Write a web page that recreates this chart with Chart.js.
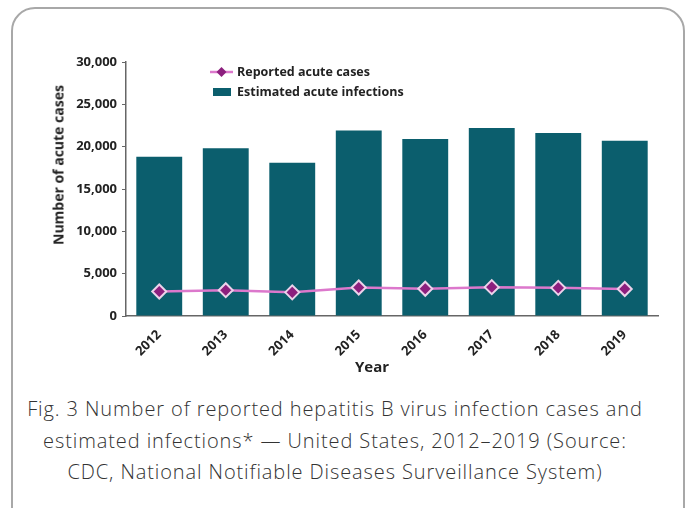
<!DOCTYPE html>
<html>
<head>
<meta charset="utf-8">
<script src="https://cdn.jsdelivr.net/npm/chart.js@4"></script>
<style>
  body { margin: 0; background: #fff; }
  #wrap { position: relative; width: 693px; height: 508px; overflow: hidden; }
  #frame {
    position: absolute; left: 11px; top: 7px; width: 674px; height: 540px;
    border: 2px solid #a8a8a8; border-radius: 24px; box-sizing: border-box;
  }
  #cv { position: absolute; left: 0; top: 0; }
  .lbl { position: absolute; font-family: "Open Sans", sans-serif; font-weight: 700; color: #222; white-space: nowrap; }
  #ytitle { font-size: 14px; left: 58px; top: 165px; transform: translate(-50%, -50%) rotate(-90deg); }
  #xtitle { font-size: 15px; left: 372px; top: 366px; transform: translate(-50%, -50%); }
  #caption {
    position: absolute; left: 0; width: 670px; top: 393px; text-align: center;
    font-family: "Open Sans", sans-serif; font-weight: 300; font-size: 20px; letter-spacing: 0.9px;
    line-height: 31.5px; color: #333;
  }
</style>
</head>
<body>
<div id="wrap">
  <div id="frame"></div>
  <canvas id="cv" width="693" height="390"></canvas>
  <div class="lbl" id="ytitle">Number of acute cases</div>
  <div class="lbl" id="xtitle">Year</div>
  <div id="caption">Fig. 3 Number of reported hepatitis B virus infection cases and<br>estimated infections* — United States, 2012–2019 (Source:<br>CDC, National Notifiable Diseases Surveillance System)</div>
</div>
<script>
const years = ['2012', '2013', '2014', '2015', '2016', '2017', '2018', '2019']
const estimatedInfections = [18800, 19800, 18100, 21900, 20900, 22200, 21600, 20700]
const reportedCases = [2895, 3050, 2791, 3370, 3218, 3409, 3322, 3192]
const yTicks = [0, 5000, 10000, 15000, 20000, 25000, 30000]

const TEAL = '#0b5e6d'
const PINK = '#dc78cc'
const PURPLE = '#8c1f7e'
const tickFont = { family: 'Open Sans', weight: 'bold', size: 13 }

// legend drawn by hand, it sits inside the plot area
const legendPlugin = {
  id: 'floatLegend',
  afterDraw(chart){
    const ctx = chart.ctx
    ctx.save()
    ctx.font = 'bold 12.5px "Open Sans"'
    ctx.textBaseline = 'middle'
    // line + diamond
    ctx.strokeStyle = PINK
    ctx.lineWidth = 2.5
    ctx.beginPath(); ctx.moveTo(210, 72); ctx.lineTo(233, 72); ctx.stroke()
    ctx.beginPath()
    ctx.moveTo(221.5, 67); ctx.lineTo(226.5, 72); ctx.lineTo(221.5, 77); ctx.lineTo(216.5, 72); ctx.closePath()
    ctx.fillStyle = PURPLE; ctx.fill()
    ctx.fillStyle = '#222'
    ctx.fillText(chart.data.datasets[0].label, 237, 72)
    // bar box
    ctx.fillStyle = TEAL
    ctx.fillRect(213, 88, 18, 8)
    ctx.fillStyle = '#222'
    ctx.fillText(chart.data.datasets[1].label, 237, 92)
    ctx.restore()
  }
}

new Chart(document.getElementById('cv'), {
  type: 'bar',
  data: {
    labels: years,
    datasets: [
      {
        type: 'line',
        label: 'Reported acute cases',
        data: reportedCases,
        borderColor: PINK,
        borderWidth: 2.5,
        pointStyle: 'rectRot',
        pointRadius: 7,
        pointBackgroundColor: PURPLE,
        pointBorderColor: '#ecd2ea',
        pointBorderWidth: 2,
        tension: 0,
        order: 0
      },
      {
        label: 'Estimated acute infections',
        data: estimatedInfections,
        backgroundColor: TEAL,
        categoryPercentage: 1,
        barPercentage: 0.69,
        order: 1
      }
    ]
  },
  options: {
    responsive: false,
    animation: false,
    layout: { padding: { left: 66, right: 35, top: 62, bottom: 34 } },
    plugins: { legend: { display: false }, tooltip: { enabled: false } },
    scales: {
      x: {
        grid: { display: false },
        border: { color: '#666', width: 1.5 },
        ticks: { minRotation: 45, maxRotation: 45, color: '#222', font: tickFont, padding: 3 },
        afterFit(scale){ scale.height = 40 }
      },
      y: {
        min: 0,
        max: 30000,
        afterBuildTicks(scale){ scale.ticks = yTicks.map(v => ({ value: v })) },
        grid: { drawOnChartArea: false, drawTicks: true, tickLength: 4, color: '#666' },
        border: { color: '#666', width: 1.5 },
        ticks: {
          color: '#222',
          font: tickFont,
          padding: 5,
          callback: v => v.toLocaleString('en-US')
        },
        afterFit(scale){ scale.width = 60 }
      }
    }
  },
  plugins: [legendPlugin]
})
</script>
</body>
</html>
